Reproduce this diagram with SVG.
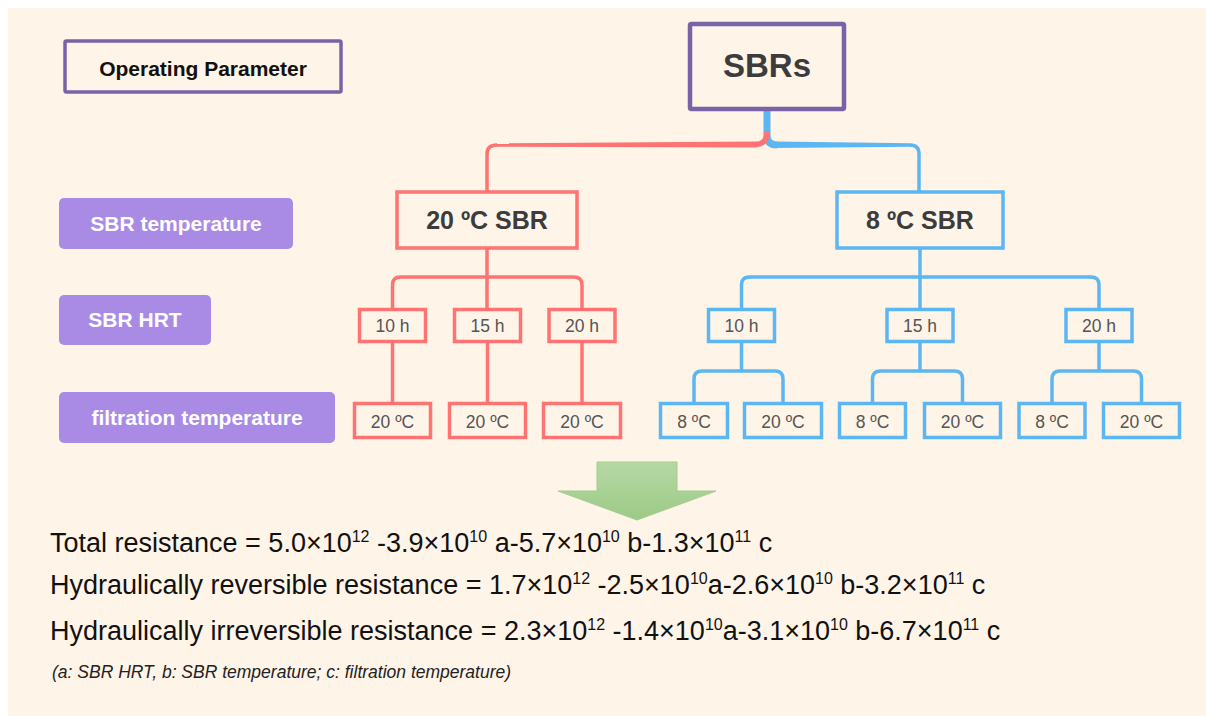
<svg xmlns="http://www.w3.org/2000/svg" width="1206" height="716" viewBox="0 0 1206 716">
<defs>
<linearGradient id="arrowGrad" x1="0" y1="0" x2="0" y2="1">
<stop offset="0" stop-color="#b6d8a4"/>
<stop offset="1" stop-color="#9ccb86"/>
</linearGradient>
</defs>
<style>
.red{fill:none;stroke:#ff7373;stroke-width:3.5}
.blue{fill:none;stroke:#5cb6f2;stroke-width:3.5}
.box{fill:#fef4e8}
.lbl{fill:#a98be6}
.lt{font-family:"Liberation Sans",Arial,sans-serif;font-weight:bold;font-size:21px;fill:#ffffff;text-anchor:middle}
.big{font-family:"Liberation Sans",Arial,sans-serif;font-weight:bold;fill:#3c3c3c;text-anchor:middle}
.sm{font-family:"Liberation Sans",Arial,sans-serif;font-size:17.5px;fill:#555555;text-anchor:middle}
.eq{font-family:"Liberation Sans",Arial,sans-serif;font-size:27px;fill:#111111}
.sup{font-size:16px}
.note{font-family:"Liberation Sans",Arial,sans-serif;font-size:17.5px;font-style:italic;fill:#222222}
</style>
<rect x="8" y="8" width="1198" height="708" fill="#fef4e8"/>

<g id="connectors">
<!-- root trunk -->
<path d="M767,110 V135 Q767,145 777,145" fill="none" stroke="#5cb6f2" stroke-width="7"/>
<polygon points="776,141.5 911,143.2 911,146.8 776,148" fill="#5cb6f2"/>
<path class="blue" d="M910,145 Q919,145 919,154 V192"/>
<path d="M767,132 Q767,144 756,144.5" fill="none" stroke="#ff7373" stroke-width="5.5"/>
<polygon points="757,141.5 496,143.3 496,146.7 757,147.5" fill="#ff7373"/>
<path class="red" d="M497,145 Q487,145 487,154 V192"/>
<!-- red subtree -->
<path class="red" d="M487,248 V309"/>
<path class="red" d="M392.5,309 V285 Q392.5,277 400.5,277 H574 Q582,277 582,285 V309"/>
<path class="red" d="M392.5,342 V403"/>
<path class="red" d="M487.5,342 V403"/>
<path class="red" d="M582,342 V403"/>
<!-- blue subtree -->
<path class="blue" d="M920,248 V309"/>
<path class="blue" d="M741.5,309 V285 Q741.5,277 749.5,277 H1091 Q1099,277 1099,285 V309"/>
<path class="blue" d="M741.5,342 V371"/>
<path class="blue" d="M694,403 V379 Q694,371 702,371 H775 Q783,371 783,379 V403"/>
<path class="blue" d="M920,342 V371"/>
<path class="blue" d="M872.5,403 V379 Q872.5,371 880.5,371 H954.5 Q962.5,371 962.5,379 V403"/>
<path class="blue" d="M1099,342 V371"/>
<path class="blue" d="M1052,403 V379 Q1052,371 1060,371 H1133.5 Q1141.5,371 1141.5,379 V403"/>
</g>

<g id="legend-operating-parameter">
<rect x="65" y="41" width="276" height="51" class="box" stroke="#7b62a8" stroke-width="3.5" rx="1.5"/>
<text x="203" y="76" font-family="'Liberation Sans',Arial,sans-serif" font-weight="bold" font-size="21" fill="#111111" text-anchor="middle">Operating Parameter</text>
</g>

<g id="label-sbr-temperature">
<rect x="59" y="198" width="234" height="51" rx="5" class="lbl"/>
<text x="176" y="231" class="lt">SBR temperature</text>
</g>
<g id="label-sbr-hrt">
<rect x="59" y="295" width="152" height="50" rx="5" class="lbl"/>
<text x="135" y="327" class="lt">SBR HRT</text>
</g>
<g id="label-filtration-temperature">
<rect x="59" y="392" width="276" height="51" rx="5" class="lbl"/>
<text x="197" y="425" class="lt">filtration temperature</text>
</g>

<g id="node-sbrs">
<rect x="690" y="24" width="154" height="85" class="box" stroke="#7b62a8" stroke-width="4.5" rx="1.5"/>
<text x="767" y="77" class="big" font-size="33">SBRs</text>
</g>

<g id="node-20c-sbr">
<rect x="397" y="192" width="180" height="56" class="box" stroke="#ff7373" stroke-width="3.5"/>
<text x="487" y="229" class="big" font-size="25">20 ºC SBR</text>
</g>
<g id="node-8c-sbr">
<rect x="837" y="192" width="166" height="56" class="box" stroke="#5cb6f2" stroke-width="3.5"/>
<text x="920" y="229" class="big" font-size="25">8 ºC SBR</text>
</g>

<g id="node-r-10h"><rect x="359.5" y="309.5" width="66" height="32" class="box" stroke="#ff7373" stroke-width="3.5"/><text x="392.5" y="332" class="sm">10 h</text></g>
<g id="node-r-15h"><rect x="454.5" y="309.5" width="66" height="32" class="box" stroke="#ff7373" stroke-width="3.5"/><text x="487.5" y="332" class="sm">15 h</text></g>
<g id="node-r-20h"><rect x="549" y="309.5" width="66" height="32" class="box" stroke="#ff7373" stroke-width="3.5"/><text x="582" y="332" class="sm">20 h</text></g>

<g id="node-r-10h-20c"><rect x="354.5" y="403.5" width="76" height="34" class="box" stroke="#ff7373" stroke-width="3.5"/><text x="392.5" y="428" class="sm">20 ºC</text></g>
<g id="node-r-15h-20c"><rect x="449.5" y="403.5" width="76" height="34" class="box" stroke="#ff7373" stroke-width="3.5"/><text x="487.5" y="428" class="sm">20 ºC</text></g>
<g id="node-r-20h-20c"><rect x="543.5" y="403.5" width="77" height="34" class="box" stroke="#ff7373" stroke-width="3.5"/><text x="582" y="428" class="sm">20 ºC</text></g>

<g id="node-b-10h"><rect x="708.5" y="309.5" width="66" height="32" class="box" stroke="#5cb6f2" stroke-width="3.5"/><text x="741.5" y="332" class="sm">10 h</text></g>
<g id="node-b-15h"><rect x="887" y="309.5" width="66" height="32" class="box" stroke="#5cb6f2" stroke-width="3.5"/><text x="920" y="332" class="sm">15 h</text></g>
<g id="node-b-20h"><rect x="1066" y="309.5" width="66" height="32" class="box" stroke="#5cb6f2" stroke-width="3.5"/><text x="1099" y="332" class="sm">20 h</text></g>

<g id="node-b-10h-8c"><rect x="660.5" y="403.5" width="67" height="34" class="box" stroke="#5cb6f2" stroke-width="3.5"/><text x="694" y="428" class="sm">8 ºC</text></g>
<g id="node-b-10h-20c"><rect x="744.5" y="403.5" width="77" height="34" class="box" stroke="#5cb6f2" stroke-width="3.5"/><text x="783" y="428" class="sm">20 ºC</text></g>
<g id="node-b-15h-8c"><rect x="839.5" y="403.5" width="66" height="34" class="box" stroke="#5cb6f2" stroke-width="3.5"/><text x="872.5" y="428" class="sm">8 ºC</text></g>
<g id="node-b-15h-20c"><rect x="924.5" y="403.5" width="76" height="34" class="box" stroke="#5cb6f2" stroke-width="3.5"/><text x="962.5" y="428" class="sm">20 ºC</text></g>
<g id="node-b-20h-8c"><rect x="1019" y="403.5" width="66" height="34" class="box" stroke="#5cb6f2" stroke-width="3.5"/><text x="1052" y="428" class="sm">8 ºC</text></g>
<g id="node-b-20h-20c"><rect x="1103.5" y="403.5" width="76" height="34" class="box" stroke="#5cb6f2" stroke-width="3.5"/><text x="1141.5" y="428" class="sm">20 ºC</text></g>

<g id="arrow-down">
<polygon points="597,462 677,462 677,491 716,491 637,520 558,491 597,491" fill="url(#arrowGrad)" stroke="#a3cc8f" stroke-width="1"/>
</g>

<g id="equations">
<text x="50" y="552" class="eq">Total resistance = 5.0×10<tspan class="sup" dy="-10">12</tspan><tspan dy="10"> -3.9×10</tspan><tspan class="sup" dy="-10">10</tspan><tspan dy="10"> a-5.7×10</tspan><tspan class="sup" dy="-10">10</tspan><tspan dy="10"> b-1.3×10</tspan><tspan class="sup" dy="-10">11</tspan><tspan dy="10"> c</tspan></text>
<text x="50" y="594" class="eq">Hydraulically reversible resistance = 1.7×10<tspan class="sup" dy="-10">12</tspan><tspan dy="10"> -2.5×10</tspan><tspan class="sup" dy="-10">10</tspan><tspan dy="10">a-2.6×10</tspan><tspan class="sup" dy="-10">10</tspan><tspan dy="10"> b-3.2×10</tspan><tspan class="sup" dy="-10">11</tspan><tspan dy="10"> c</tspan></text>
<text x="50" y="640" class="eq">Hydraulically irreversible resistance = 2.3×10<tspan class="sup" dy="-10">12</tspan><tspan dy="10"> -1.4×10</tspan><tspan class="sup" dy="-10">10</tspan><tspan dy="10">a-3.1×10</tspan><tspan class="sup" dy="-10">10</tspan><tspan dy="10"> b-6.7×10</tspan><tspan class="sup" dy="-10">11</tspan><tspan dy="10"> c</tspan></text>
<text x="52" y="678" class="note">(a: SBR HRT, b: SBR temperature; c: filtration temperature)</text>
</g>
</svg>
